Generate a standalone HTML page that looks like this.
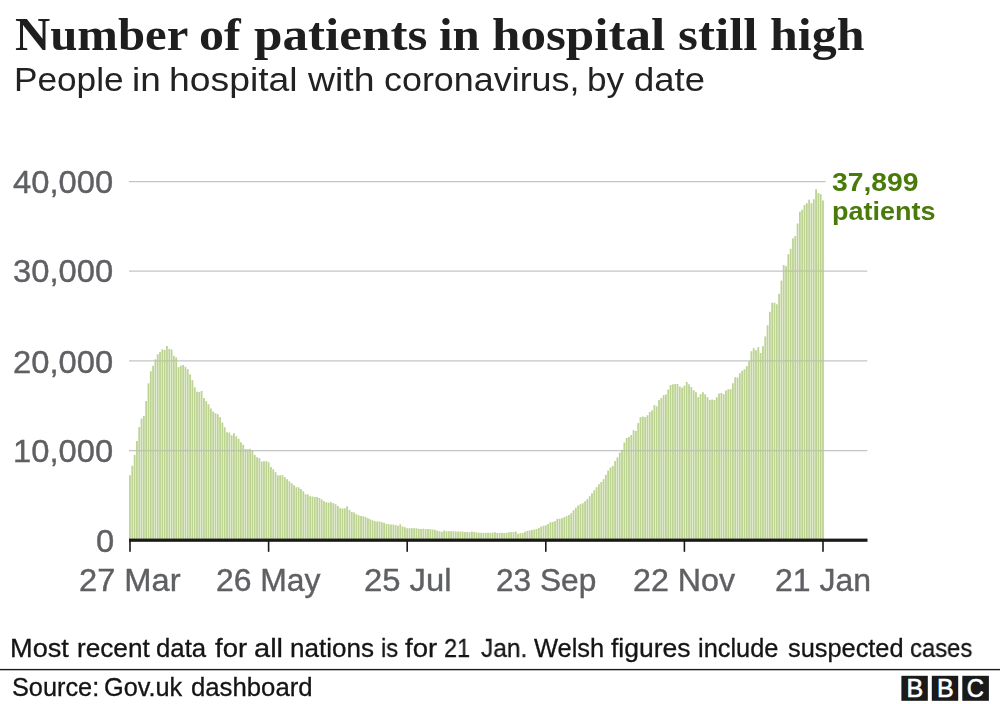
<!DOCTYPE html>
<html><head><meta charset="utf-8"><title>Number of patients in hospital still high</title>
<style>
html,body{margin:0;padding:0;background:#fff;}
body{width:1000px;height:704px;position:relative;overflow:hidden;font-family:"Liberation Sans",sans-serif;}
.t{position:absolute;white-space:nowrap;line-height:1;transform-origin:0 0;will-change:transform;}
svg{position:absolute;left:0;top:0;}
</style></head><body>
<svg width="1000" height="704" viewBox="0 0 1000 704">
<line x1="129" x2="825.5" y1="181.6" y2="181.6" stroke="#c4c4c4" stroke-width="1.25"/>
<line x1="129" x2="867.3" y1="271.2" y2="271.2" stroke="#c4c4c4" stroke-width="1.25"/>
<line x1="129" x2="867.3" y1="360.9" y2="360.9" stroke="#c4c4c4" stroke-width="1.25"/>
<line x1="129" x2="867.3" y1="450.5" y2="450.5" stroke="#c4c4c4" stroke-width="1.25"/>

<g fill="#a9c672" fill-opacity="0.78" shape-rendering="auto">
<rect x="129.10" y="475.2" width="1.8" height="63.8"/>
<rect x="131.41" y="465.8" width="1.8" height="73.2"/>
<rect x="133.72" y="454.9" width="1.8" height="84.1"/>
<rect x="136.03" y="441.0" width="1.8" height="98.0"/>
<rect x="138.34" y="427.1" width="1.8" height="111.9"/>
<rect x="140.65" y="418.5" width="1.8" height="120.5"/>
<rect x="142.96" y="415.9" width="1.8" height="123.1"/>
<rect x="145.27" y="401.0" width="1.8" height="138.0"/>
<rect x="147.58" y="383.3" width="1.8" height="155.7"/>
<rect x="149.89" y="371.2" width="1.8" height="167.8"/>
<rect x="152.20" y="365.8" width="1.8" height="173.2"/>
<rect x="154.51" y="359.3" width="1.8" height="179.7"/>
<rect x="156.82" y="354.3" width="1.8" height="184.7"/>
<rect x="159.13" y="351.9" width="1.8" height="187.1"/>
<rect x="161.44" y="349.3" width="1.8" height="189.7"/>
<rect x="163.75" y="349.9" width="1.8" height="189.1"/>
<rect x="166.06" y="346.0" width="1.8" height="193.0"/>
<rect x="168.37" y="348.9" width="1.8" height="190.1"/>
<rect x="170.68" y="349.5" width="1.8" height="189.5"/>
<rect x="172.99" y="355.9" width="1.8" height="183.1"/>
<rect x="175.30" y="357.5" width="1.8" height="181.5"/>
<rect x="177.61" y="367.2" width="1.8" height="171.8"/>
<rect x="179.92" y="365.8" width="1.8" height="173.2"/>
<rect x="182.23" y="365.0" width="1.8" height="174.0"/>
<rect x="184.54" y="366.8" width="1.8" height="172.2"/>
<rect x="186.85" y="369.2" width="1.8" height="169.8"/>
<rect x="189.16" y="374.4" width="1.8" height="164.6"/>
<rect x="191.47" y="380.2" width="1.8" height="158.8"/>
<rect x="193.78" y="387.3" width="1.8" height="151.7"/>
<rect x="196.09" y="391.7" width="1.8" height="147.3"/>
<rect x="198.40" y="392.0" width="1.8" height="147.0"/>
<rect x="200.71" y="391.0" width="1.8" height="148.0"/>
<rect x="203.02" y="398.0" width="1.8" height="141.0"/>
<rect x="205.33" y="401.2" width="1.8" height="137.8"/>
<rect x="207.64" y="404.3" width="1.8" height="134.7"/>
<rect x="209.95" y="408.5" width="1.8" height="130.5"/>
<rect x="212.26" y="411.5" width="1.8" height="127.5"/>
<rect x="214.57" y="413.2" width="1.8" height="125.8"/>
<rect x="216.88" y="414.2" width="1.8" height="124.8"/>
<rect x="219.19" y="417.2" width="1.8" height="121.8"/>
<rect x="221.50" y="422.5" width="1.8" height="116.5"/>
<rect x="223.81" y="427.2" width="1.8" height="111.8"/>
<rect x="226.12" y="432.2" width="1.8" height="106.8"/>
<rect x="228.43" y="432.5" width="1.8" height="106.5"/>
<rect x="230.74" y="435.2" width="1.8" height="103.8"/>
<rect x="233.05" y="433.2" width="1.8" height="105.8"/>
<rect x="235.36" y="436.3" width="1.8" height="102.7"/>
<rect x="237.67" y="438.7" width="1.8" height="100.3"/>
<rect x="239.98" y="442.3" width="1.8" height="96.7"/>
<rect x="242.29" y="444.7" width="1.8" height="94.3"/>
<rect x="244.60" y="449.0" width="1.8" height="90.0"/>
<rect x="246.91" y="449.3" width="1.8" height="89.7"/>
<rect x="249.22" y="448.8" width="1.8" height="90.2"/>
<rect x="251.53" y="450.8" width="1.8" height="88.2"/>
<rect x="253.84" y="455.0" width="1.8" height="84.0"/>
<rect x="256.15" y="457.2" width="1.8" height="81.8"/>
<rect x="258.46" y="458.2" width="1.8" height="80.8"/>
<rect x="260.77" y="461.5" width="1.8" height="77.5"/>
<rect x="263.08" y="461.3" width="1.8" height="77.7"/>
<rect x="265.39" y="461.2" width="1.8" height="77.8"/>
<rect x="267.70" y="462.2" width="1.8" height="76.8"/>
<rect x="270.01" y="467.0" width="1.8" height="72.0"/>
<rect x="272.32" y="469.2" width="1.8" height="69.8"/>
<rect x="274.63" y="472.2" width="1.8" height="66.8"/>
<rect x="276.94" y="475.3" width="1.8" height="63.7"/>
<rect x="279.25" y="475.3" width="1.8" height="63.7"/>
<rect x="281.56" y="475.2" width="1.8" height="63.8"/>
<rect x="283.87" y="477.2" width="1.8" height="61.8"/>
<rect x="286.18" y="479.2" width="1.8" height="59.8"/>
<rect x="288.49" y="481.3" width="1.8" height="57.7"/>
<rect x="290.80" y="483.3" width="1.8" height="55.7"/>
<rect x="293.11" y="485.2" width="1.8" height="53.8"/>
<rect x="295.42" y="487.2" width="1.8" height="51.8"/>
<rect x="297.73" y="487.3" width="1.8" height="51.7"/>
<rect x="300.04" y="489.0" width="1.8" height="50.0"/>
<rect x="302.35" y="491.2" width="1.8" height="47.8"/>
<rect x="304.66" y="494.2" width="1.8" height="44.8"/>
<rect x="306.97" y="494.5" width="1.8" height="44.5"/>
<rect x="309.28" y="496.2" width="1.8" height="42.8"/>
<rect x="311.59" y="496.5" width="1.8" height="42.5"/>
<rect x="313.90" y="497.0" width="1.8" height="42.0"/>
<rect x="316.21" y="497.0" width="1.8" height="42.0"/>
<rect x="318.52" y="498.0" width="1.8" height="41.0"/>
<rect x="320.83" y="499.5" width="1.8" height="39.5"/>
<rect x="323.14" y="501.2" width="1.8" height="37.8"/>
<rect x="325.45" y="502.2" width="1.8" height="36.8"/>
<rect x="327.76" y="502.5" width="1.8" height="36.5"/>
<rect x="330.07" y="502.2" width="1.8" height="36.8"/>
<rect x="332.38" y="503.2" width="1.8" height="35.8"/>
<rect x="334.69" y="504.2" width="1.8" height="34.8"/>
<rect x="337.00" y="506.0" width="1.8" height="33.0"/>
<rect x="339.31" y="508.2" width="1.8" height="30.8"/>
<rect x="341.62" y="508.5" width="1.8" height="30.5"/>
<rect x="343.93" y="508.3" width="1.8" height="30.7"/>
<rect x="346.24" y="506.3" width="1.8" height="32.7"/>
<rect x="348.55" y="510.0" width="1.8" height="29.0"/>
<rect x="350.86" y="512.0" width="1.8" height="27.0"/>
<rect x="353.17" y="512.5" width="1.8" height="26.5"/>
<rect x="355.48" y="514.2" width="1.8" height="24.8"/>
<rect x="357.79" y="515.3" width="1.8" height="23.7"/>
<rect x="360.10" y="516.0" width="1.8" height="23.0"/>
<rect x="362.41" y="516.2" width="1.8" height="22.8"/>
<rect x="364.72" y="517.2" width="1.8" height="21.8"/>
<rect x="367.03" y="518.2" width="1.8" height="20.8"/>
<rect x="369.34" y="519.3" width="1.8" height="19.7"/>
<rect x="371.65" y="520.2" width="1.8" height="18.8"/>
<rect x="373.96" y="521.2" width="1.8" height="17.8"/>
<rect x="376.27" y="521.5" width="1.8" height="17.5"/>
<rect x="378.58" y="521.5" width="1.8" height="17.5"/>
<rect x="380.89" y="522.2" width="1.8" height="16.8"/>
<rect x="383.20" y="522.8" width="1.8" height="16.2"/>
<rect x="385.51" y="524.0" width="1.8" height="15.0"/>
<rect x="387.82" y="524.2" width="1.8" height="14.8"/>
<rect x="390.13" y="524.5" width="1.8" height="14.5"/>
<rect x="392.44" y="524.5" width="1.8" height="14.5"/>
<rect x="394.75" y="525.0" width="1.8" height="14.0"/>
<rect x="397.06" y="525.8" width="1.8" height="13.2"/>
<rect x="399.37" y="524.3" width="1.8" height="14.7"/>
<rect x="401.68" y="526.5" width="1.8" height="12.5"/>
<rect x="403.99" y="527.2" width="1.8" height="11.8"/>
<rect x="406.30" y="528.2" width="1.8" height="10.8"/>
<rect x="408.61" y="528.2" width="1.8" height="10.8"/>
<rect x="410.92" y="528.2" width="1.8" height="10.8"/>
<rect x="413.23" y="528.2" width="1.8" height="10.8"/>
<rect x="415.54" y="528.3" width="1.8" height="10.7"/>
<rect x="417.85" y="528.8" width="1.8" height="10.2"/>
<rect x="420.16" y="529.0" width="1.8" height="10.0"/>
<rect x="422.47" y="528.7" width="1.8" height="10.3"/>
<rect x="424.78" y="529.0" width="1.8" height="10.0"/>
<rect x="427.09" y="529.0" width="1.8" height="10.0"/>
<rect x="429.40" y="529.2" width="1.8" height="9.8"/>
<rect x="431.71" y="529.5" width="1.8" height="9.5"/>
<rect x="434.02" y="529.8" width="1.8" height="9.2"/>
<rect x="436.33" y="530.5" width="1.8" height="8.5"/>
<rect x="438.64" y="531.2" width="1.8" height="7.8"/>
<rect x="440.95" y="531.8" width="1.8" height="7.2"/>
<rect x="443.26" y="530.5" width="1.8" height="8.5"/>
<rect x="445.57" y="531.2" width="1.8" height="7.8"/>
<rect x="447.88" y="531.2" width="1.8" height="7.8"/>
<rect x="450.19" y="531.2" width="1.8" height="7.8"/>
<rect x="452.50" y="531.2" width="1.8" height="7.8"/>
<rect x="454.81" y="531.5" width="1.8" height="7.5"/>
<rect x="457.12" y="531.5" width="1.8" height="7.5"/>
<rect x="459.43" y="531.5" width="1.8" height="7.5"/>
<rect x="461.74" y="531.6" width="1.8" height="7.4"/>
<rect x="464.05" y="532.0" width="1.8" height="7.0"/>
<rect x="466.36" y="532.0" width="1.8" height="7.0"/>
<rect x="468.67" y="532.2" width="1.8" height="6.8"/>
<rect x="470.98" y="531.5" width="1.8" height="7.5"/>
<rect x="473.29" y="532.0" width="1.8" height="7.0"/>
<rect x="475.60" y="532.3" width="1.8" height="6.7"/>
<rect x="477.91" y="532.7" width="1.8" height="6.3"/>
<rect x="480.22" y="532.8" width="1.8" height="6.2"/>
<rect x="482.53" y="532.8" width="1.8" height="6.2"/>
<rect x="484.84" y="532.8" width="1.8" height="6.2"/>
<rect x="487.15" y="532.8" width="1.8" height="6.2"/>
<rect x="489.46" y="532.8" width="1.8" height="6.2"/>
<rect x="491.77" y="532.7" width="1.8" height="6.3"/>
<rect x="494.08" y="532.2" width="1.8" height="6.8"/>
<rect x="496.39" y="533.0" width="1.8" height="6.0"/>
<rect x="498.70" y="532.8" width="1.8" height="6.2"/>
<rect x="501.01" y="532.8" width="1.8" height="6.2"/>
<rect x="503.32" y="533.0" width="1.8" height="6.0"/>
<rect x="505.63" y="532.8" width="1.8" height="6.2"/>
<rect x="507.94" y="532.2" width="1.8" height="6.8"/>
<rect x="510.25" y="532.2" width="1.8" height="6.8"/>
<rect x="512.56" y="532.0" width="1.8" height="7.0"/>
<rect x="514.87" y="531.5" width="1.8" height="7.5"/>
<rect x="517.18" y="533.8" width="1.8" height="5.2"/>
<rect x="519.49" y="533.2" width="1.8" height="5.8"/>
<rect x="521.80" y="533.0" width="1.8" height="6.0"/>
<rect x="524.11" y="531.8" width="1.8" height="7.2"/>
<rect x="526.42" y="531.0" width="1.8" height="8.0"/>
<rect x="528.73" y="530.5" width="1.8" height="8.5"/>
<rect x="531.04" y="530.0" width="1.8" height="9.0"/>
<rect x="533.35" y="529.5" width="1.8" height="9.5"/>
<rect x="535.66" y="529.0" width="1.8" height="10.0"/>
<rect x="537.97" y="528.0" width="1.8" height="11.0"/>
<rect x="540.28" y="526.5" width="1.8" height="12.5"/>
<rect x="542.59" y="525.8" width="1.8" height="13.2"/>
<rect x="544.90" y="525.2" width="1.8" height="13.8"/>
<rect x="547.21" y="524.0" width="1.8" height="15.0"/>
<rect x="549.52" y="522.2" width="1.8" height="16.8"/>
<rect x="551.83" y="522.0" width="1.8" height="17.0"/>
<rect x="554.14" y="521.2" width="1.8" height="17.8"/>
<rect x="556.45" y="519.0" width="1.8" height="20.0"/>
<rect x="558.76" y="518.7" width="1.8" height="20.3"/>
<rect x="561.07" y="518.2" width="1.8" height="20.8"/>
<rect x="563.38" y="517.2" width="1.8" height="21.8"/>
<rect x="565.69" y="516.2" width="1.8" height="22.8"/>
<rect x="568.00" y="515.0" width="1.8" height="24.0"/>
<rect x="570.31" y="513.2" width="1.8" height="25.8"/>
<rect x="572.62" y="510.2" width="1.8" height="28.8"/>
<rect x="574.93" y="507.8" width="1.8" height="31.2"/>
<rect x="577.24" y="505.5" width="1.8" height="33.5"/>
<rect x="579.55" y="504.2" width="1.8" height="34.8"/>
<rect x="581.86" y="503.2" width="1.8" height="35.8"/>
<rect x="584.17" y="501.3" width="1.8" height="37.7"/>
<rect x="586.48" y="499.0" width="1.8" height="40.0"/>
<rect x="588.79" y="496.2" width="1.8" height="42.8"/>
<rect x="591.10" y="493.2" width="1.8" height="45.8"/>
<rect x="593.41" y="490.2" width="1.8" height="48.8"/>
<rect x="595.72" y="487.2" width="1.8" height="51.8"/>
<rect x="598.03" y="484.2" width="1.8" height="54.8"/>
<rect x="600.34" y="482.0" width="1.8" height="57.0"/>
<rect x="602.65" y="479.2" width="1.8" height="59.8"/>
<rect x="604.96" y="474.8" width="1.8" height="64.2"/>
<rect x="607.27" y="470.5" width="1.8" height="68.5"/>
<rect x="609.58" y="467.5" width="1.8" height="71.5"/>
<rect x="611.89" y="466.0" width="1.8" height="73.0"/>
<rect x="614.20" y="461.1" width="1.8" height="77.9"/>
<rect x="616.51" y="457.4" width="1.8" height="81.6"/>
<rect x="618.82" y="452.6" width="1.8" height="86.4"/>
<rect x="621.13" y="449.9" width="1.8" height="89.1"/>
<rect x="623.44" y="442.5" width="1.8" height="96.5"/>
<rect x="625.75" y="438.0" width="1.8" height="101.0"/>
<rect x="628.06" y="436.9" width="1.8" height="102.1"/>
<rect x="630.37" y="435.0" width="1.8" height="104.0"/>
<rect x="632.68" y="430.2" width="1.8" height="108.8"/>
<rect x="634.99" y="431.0" width="1.8" height="108.0"/>
<rect x="637.30" y="423.1" width="1.8" height="115.9"/>
<rect x="639.61" y="417.2" width="1.8" height="121.8"/>
<rect x="641.92" y="416.5" width="1.8" height="122.5"/>
<rect x="644.23" y="417.1" width="1.8" height="121.9"/>
<rect x="646.54" y="415.3" width="1.8" height="123.7"/>
<rect x="648.85" y="412.0" width="1.8" height="127.0"/>
<rect x="651.16" y="410.4" width="1.8" height="128.6"/>
<rect x="653.47" y="405.1" width="1.8" height="133.9"/>
<rect x="655.78" y="406.3" width="1.8" height="132.7"/>
<rect x="658.09" y="400.1" width="1.8" height="138.9"/>
<rect x="660.40" y="398.1" width="1.8" height="140.9"/>
<rect x="662.71" y="395.1" width="1.8" height="143.9"/>
<rect x="665.02" y="394.4" width="1.8" height="144.6"/>
<rect x="667.33" y="389.5" width="1.8" height="149.5"/>
<rect x="669.64" y="385.1" width="1.8" height="153.9"/>
<rect x="671.95" y="384.3" width="1.8" height="154.7"/>
<rect x="674.26" y="384.0" width="1.8" height="155.0"/>
<rect x="676.57" y="384.0" width="1.8" height="155.0"/>
<rect x="678.88" y="386.5" width="1.8" height="152.5"/>
<rect x="681.19" y="387.7" width="1.8" height="151.3"/>
<rect x="683.50" y="385.7" width="1.8" height="153.3"/>
<rect x="685.81" y="382.0" width="1.8" height="157.0"/>
<rect x="688.12" y="384.3" width="1.8" height="154.7"/>
<rect x="690.43" y="387.0" width="1.8" height="152.0"/>
<rect x="692.74" y="390.2" width="1.8" height="148.8"/>
<rect x="695.05" y="392.2" width="1.8" height="146.8"/>
<rect x="697.36" y="397.2" width="1.8" height="141.8"/>
<rect x="699.67" y="394.2" width="1.8" height="144.8"/>
<rect x="701.98" y="392.2" width="1.8" height="146.8"/>
<rect x="704.29" y="394.3" width="1.8" height="144.7"/>
<rect x="706.60" y="397.2" width="1.8" height="141.8"/>
<rect x="708.91" y="400.0" width="1.8" height="139.0"/>
<rect x="711.22" y="399.5" width="1.8" height="139.5"/>
<rect x="713.53" y="400.0" width="1.8" height="139.0"/>
<rect x="715.84" y="397.2" width="1.8" height="141.8"/>
<rect x="718.15" y="393.5" width="1.8" height="145.5"/>
<rect x="720.46" y="393.0" width="1.8" height="146.0"/>
<rect x="722.77" y="394.2" width="1.8" height="144.8"/>
<rect x="725.08" y="390.5" width="1.8" height="148.5"/>
<rect x="727.39" y="389.3" width="1.8" height="149.7"/>
<rect x="729.70" y="389.2" width="1.8" height="149.8"/>
<rect x="732.01" y="383.2" width="1.8" height="155.8"/>
<rect x="734.32" y="377.2" width="1.8" height="161.8"/>
<rect x="736.63" y="377.5" width="1.8" height="161.5"/>
<rect x="738.94" y="373.2" width="1.8" height="165.8"/>
<rect x="741.25" y="370.8" width="1.8" height="168.2"/>
<rect x="743.56" y="369.2" width="1.8" height="169.8"/>
<rect x="745.87" y="366.2" width="1.8" height="172.8"/>
<rect x="748.18" y="361.5" width="1.8" height="177.5"/>
<rect x="750.49" y="351.2" width="1.8" height="187.8"/>
<rect x="752.80" y="348.2" width="1.8" height="190.8"/>
<rect x="755.11" y="350.2" width="1.8" height="188.8"/>
<rect x="757.42" y="347.2" width="1.8" height="191.8"/>
<rect x="759.73" y="353.0" width="1.8" height="186.0"/>
<rect x="762.04" y="346.2" width="1.8" height="192.8"/>
<rect x="764.35" y="336.4" width="1.8" height="202.6"/>
<rect x="766.66" y="325.2" width="1.8" height="213.8"/>
<rect x="768.97" y="311.8" width="1.8" height="227.2"/>
<rect x="771.28" y="302.7" width="1.8" height="236.3"/>
<rect x="773.59" y="302.7" width="1.8" height="236.3"/>
<rect x="775.90" y="304.2" width="1.8" height="234.8"/>
<rect x="778.21" y="293.8" width="1.8" height="245.2"/>
<rect x="780.52" y="280.6" width="1.8" height="258.4"/>
<rect x="782.83" y="265.0" width="1.8" height="274.0"/>
<rect x="785.14" y="266.1" width="1.8" height="272.9"/>
<rect x="787.45" y="254.2" width="1.8" height="284.8"/>
<rect x="789.76" y="248.8" width="1.8" height="290.2"/>
<rect x="792.07" y="238.3" width="1.8" height="300.7"/>
<rect x="794.38" y="236.0" width="1.8" height="303.0"/>
<rect x="796.69" y="223.5" width="1.8" height="315.5"/>
<rect x="799.00" y="211.7" width="1.8" height="327.3"/>
<rect x="801.31" y="209.7" width="1.8" height="329.3"/>
<rect x="803.62" y="205.0" width="1.8" height="334.0"/>
<rect x="805.93" y="203.2" width="1.8" height="335.8"/>
<rect x="808.24" y="199.6" width="1.8" height="339.4"/>
<rect x="810.55" y="203.2" width="1.8" height="335.8"/>
<rect x="812.86" y="199.2" width="1.8" height="339.8"/>
<rect x="815.17" y="189.2" width="1.8" height="349.8"/>
<rect x="817.48" y="193.1" width="1.8" height="345.9"/>
<rect x="819.79" y="194.2" width="1.8" height="344.8"/>
<rect x="822.10" y="200.5" width="1.8" height="338.5"/>
</g>
<g fill="#c8c8c3" fill-opacity="0.55">
<rect x="136.03" y="449.875" width="1.8" height="1.25"/>
<rect x="138.34" y="449.875" width="1.8" height="1.25"/>
<rect x="140.65" y="449.875" width="1.8" height="1.25"/>
<rect x="142.96" y="449.875" width="1.8" height="1.25"/>
<rect x="145.27" y="449.875" width="1.8" height="1.25"/>
<rect x="147.58" y="449.875" width="1.8" height="1.25"/>
<rect x="149.89" y="449.875" width="1.8" height="1.25"/>
<rect x="152.20" y="449.875" width="1.8" height="1.25"/>
<rect x="154.51" y="360.275" width="1.8" height="1.25"/>
<rect x="154.51" y="449.875" width="1.8" height="1.25"/>
<rect x="156.82" y="360.275" width="1.8" height="1.25"/>
<rect x="156.82" y="449.875" width="1.8" height="1.25"/>
<rect x="159.13" y="360.275" width="1.8" height="1.25"/>
<rect x="159.13" y="449.875" width="1.8" height="1.25"/>
<rect x="161.44" y="360.275" width="1.8" height="1.25"/>
<rect x="161.44" y="449.875" width="1.8" height="1.25"/>
<rect x="163.75" y="360.275" width="1.8" height="1.25"/>
<rect x="163.75" y="449.875" width="1.8" height="1.25"/>
<rect x="166.06" y="360.275" width="1.8" height="1.25"/>
<rect x="166.06" y="449.875" width="1.8" height="1.25"/>
<rect x="168.37" y="360.275" width="1.8" height="1.25"/>
<rect x="168.37" y="449.875" width="1.8" height="1.25"/>
<rect x="170.68" y="360.275" width="1.8" height="1.25"/>
<rect x="170.68" y="449.875" width="1.8" height="1.25"/>
<rect x="172.99" y="360.275" width="1.8" height="1.25"/>
<rect x="172.99" y="449.875" width="1.8" height="1.25"/>
<rect x="175.30" y="360.275" width="1.8" height="1.25"/>
<rect x="175.30" y="449.875" width="1.8" height="1.25"/>
<rect x="177.61" y="449.875" width="1.8" height="1.25"/>
<rect x="179.92" y="449.875" width="1.8" height="1.25"/>
<rect x="182.23" y="449.875" width="1.8" height="1.25"/>
<rect x="184.54" y="449.875" width="1.8" height="1.25"/>
<rect x="186.85" y="449.875" width="1.8" height="1.25"/>
<rect x="189.16" y="449.875" width="1.8" height="1.25"/>
<rect x="191.47" y="449.875" width="1.8" height="1.25"/>
<rect x="193.78" y="449.875" width="1.8" height="1.25"/>
<rect x="196.09" y="449.875" width="1.8" height="1.25"/>
<rect x="198.40" y="449.875" width="1.8" height="1.25"/>
<rect x="200.71" y="449.875" width="1.8" height="1.25"/>
<rect x="203.02" y="449.875" width="1.8" height="1.25"/>
<rect x="205.33" y="449.875" width="1.8" height="1.25"/>
<rect x="207.64" y="449.875" width="1.8" height="1.25"/>
<rect x="209.95" y="449.875" width="1.8" height="1.25"/>
<rect x="212.26" y="449.875" width="1.8" height="1.25"/>
<rect x="214.57" y="449.875" width="1.8" height="1.25"/>
<rect x="216.88" y="449.875" width="1.8" height="1.25"/>
<rect x="219.19" y="449.875" width="1.8" height="1.25"/>
<rect x="221.50" y="449.875" width="1.8" height="1.25"/>
<rect x="223.81" y="449.875" width="1.8" height="1.25"/>
<rect x="226.12" y="449.875" width="1.8" height="1.25"/>
<rect x="228.43" y="449.875" width="1.8" height="1.25"/>
<rect x="230.74" y="449.875" width="1.8" height="1.25"/>
<rect x="233.05" y="449.875" width="1.8" height="1.25"/>
<rect x="235.36" y="449.875" width="1.8" height="1.25"/>
<rect x="237.67" y="449.875" width="1.8" height="1.25"/>
<rect x="239.98" y="449.875" width="1.8" height="1.25"/>
<rect x="242.29" y="449.875" width="1.8" height="1.25"/>
<rect x="244.60" y="449.875" width="1.8" height="1.25"/>
<rect x="246.91" y="449.875" width="1.8" height="1.25"/>
<rect x="249.22" y="449.875" width="1.8" height="1.25"/>
<rect x="623.44" y="449.875" width="1.8" height="1.25"/>
<rect x="625.75" y="449.875" width="1.8" height="1.25"/>
<rect x="628.06" y="449.875" width="1.8" height="1.25"/>
<rect x="630.37" y="449.875" width="1.8" height="1.25"/>
<rect x="632.68" y="449.875" width="1.8" height="1.25"/>
<rect x="634.99" y="449.875" width="1.8" height="1.25"/>
<rect x="637.30" y="449.875" width="1.8" height="1.25"/>
<rect x="639.61" y="449.875" width="1.8" height="1.25"/>
<rect x="641.92" y="449.875" width="1.8" height="1.25"/>
<rect x="644.23" y="449.875" width="1.8" height="1.25"/>
<rect x="646.54" y="449.875" width="1.8" height="1.25"/>
<rect x="648.85" y="449.875" width="1.8" height="1.25"/>
<rect x="651.16" y="449.875" width="1.8" height="1.25"/>
<rect x="653.47" y="449.875" width="1.8" height="1.25"/>
<rect x="655.78" y="449.875" width="1.8" height="1.25"/>
<rect x="658.09" y="449.875" width="1.8" height="1.25"/>
<rect x="660.40" y="449.875" width="1.8" height="1.25"/>
<rect x="662.71" y="449.875" width="1.8" height="1.25"/>
<rect x="665.02" y="449.875" width="1.8" height="1.25"/>
<rect x="667.33" y="449.875" width="1.8" height="1.25"/>
<rect x="669.64" y="449.875" width="1.8" height="1.25"/>
<rect x="671.95" y="449.875" width="1.8" height="1.25"/>
<rect x="674.26" y="449.875" width="1.8" height="1.25"/>
<rect x="676.57" y="449.875" width="1.8" height="1.25"/>
<rect x="678.88" y="449.875" width="1.8" height="1.25"/>
<rect x="681.19" y="449.875" width="1.8" height="1.25"/>
<rect x="683.50" y="449.875" width="1.8" height="1.25"/>
<rect x="685.81" y="449.875" width="1.8" height="1.25"/>
<rect x="688.12" y="449.875" width="1.8" height="1.25"/>
<rect x="690.43" y="449.875" width="1.8" height="1.25"/>
<rect x="692.74" y="449.875" width="1.8" height="1.25"/>
<rect x="695.05" y="449.875" width="1.8" height="1.25"/>
<rect x="697.36" y="449.875" width="1.8" height="1.25"/>
<rect x="699.67" y="449.875" width="1.8" height="1.25"/>
<rect x="701.98" y="449.875" width="1.8" height="1.25"/>
<rect x="704.29" y="449.875" width="1.8" height="1.25"/>
<rect x="706.60" y="449.875" width="1.8" height="1.25"/>
<rect x="708.91" y="449.875" width="1.8" height="1.25"/>
<rect x="711.22" y="449.875" width="1.8" height="1.25"/>
<rect x="713.53" y="449.875" width="1.8" height="1.25"/>
<rect x="715.84" y="449.875" width="1.8" height="1.25"/>
<rect x="718.15" y="449.875" width="1.8" height="1.25"/>
<rect x="720.46" y="449.875" width="1.8" height="1.25"/>
<rect x="722.77" y="449.875" width="1.8" height="1.25"/>
<rect x="725.08" y="449.875" width="1.8" height="1.25"/>
<rect x="727.39" y="449.875" width="1.8" height="1.25"/>
<rect x="729.70" y="449.875" width="1.8" height="1.25"/>
<rect x="732.01" y="449.875" width="1.8" height="1.25"/>
<rect x="734.32" y="449.875" width="1.8" height="1.25"/>
<rect x="736.63" y="449.875" width="1.8" height="1.25"/>
<rect x="738.94" y="449.875" width="1.8" height="1.25"/>
<rect x="741.25" y="449.875" width="1.8" height="1.25"/>
<rect x="743.56" y="449.875" width="1.8" height="1.25"/>
<rect x="745.87" y="449.875" width="1.8" height="1.25"/>
<rect x="748.18" y="449.875" width="1.8" height="1.25"/>
<rect x="750.49" y="360.275" width="1.8" height="1.25"/>
<rect x="750.49" y="449.875" width="1.8" height="1.25"/>
<rect x="752.80" y="360.275" width="1.8" height="1.25"/>
<rect x="752.80" y="449.875" width="1.8" height="1.25"/>
<rect x="755.11" y="360.275" width="1.8" height="1.25"/>
<rect x="755.11" y="449.875" width="1.8" height="1.25"/>
<rect x="757.42" y="360.275" width="1.8" height="1.25"/>
<rect x="757.42" y="449.875" width="1.8" height="1.25"/>
<rect x="759.73" y="360.275" width="1.8" height="1.25"/>
<rect x="759.73" y="449.875" width="1.8" height="1.25"/>
<rect x="762.04" y="360.275" width="1.8" height="1.25"/>
<rect x="762.04" y="449.875" width="1.8" height="1.25"/>
<rect x="764.35" y="360.275" width="1.8" height="1.25"/>
<rect x="764.35" y="449.875" width="1.8" height="1.25"/>
<rect x="766.66" y="360.275" width="1.8" height="1.25"/>
<rect x="766.66" y="449.875" width="1.8" height="1.25"/>
<rect x="768.97" y="360.275" width="1.8" height="1.25"/>
<rect x="768.97" y="449.875" width="1.8" height="1.25"/>
<rect x="771.28" y="360.275" width="1.8" height="1.25"/>
<rect x="771.28" y="449.875" width="1.8" height="1.25"/>
<rect x="773.59" y="360.275" width="1.8" height="1.25"/>
<rect x="773.59" y="449.875" width="1.8" height="1.25"/>
<rect x="775.90" y="360.275" width="1.8" height="1.25"/>
<rect x="775.90" y="449.875" width="1.8" height="1.25"/>
<rect x="778.21" y="360.275" width="1.8" height="1.25"/>
<rect x="778.21" y="449.875" width="1.8" height="1.25"/>
<rect x="780.52" y="360.275" width="1.8" height="1.25"/>
<rect x="780.52" y="449.875" width="1.8" height="1.25"/>
<rect x="782.83" y="270.575" width="1.8" height="1.25"/>
<rect x="782.83" y="360.275" width="1.8" height="1.25"/>
<rect x="782.83" y="449.875" width="1.8" height="1.25"/>
<rect x="785.14" y="270.575" width="1.8" height="1.25"/>
<rect x="785.14" y="360.275" width="1.8" height="1.25"/>
<rect x="785.14" y="449.875" width="1.8" height="1.25"/>
<rect x="787.45" y="270.575" width="1.8" height="1.25"/>
<rect x="787.45" y="360.275" width="1.8" height="1.25"/>
<rect x="787.45" y="449.875" width="1.8" height="1.25"/>
<rect x="789.76" y="270.575" width="1.8" height="1.25"/>
<rect x="789.76" y="360.275" width="1.8" height="1.25"/>
<rect x="789.76" y="449.875" width="1.8" height="1.25"/>
<rect x="792.07" y="270.575" width="1.8" height="1.25"/>
<rect x="792.07" y="360.275" width="1.8" height="1.25"/>
<rect x="792.07" y="449.875" width="1.8" height="1.25"/>
<rect x="794.38" y="270.575" width="1.8" height="1.25"/>
<rect x="794.38" y="360.275" width="1.8" height="1.25"/>
<rect x="794.38" y="449.875" width="1.8" height="1.25"/>
<rect x="796.69" y="270.575" width="1.8" height="1.25"/>
<rect x="796.69" y="360.275" width="1.8" height="1.25"/>
<rect x="796.69" y="449.875" width="1.8" height="1.25"/>
<rect x="799.00" y="270.575" width="1.8" height="1.25"/>
<rect x="799.00" y="360.275" width="1.8" height="1.25"/>
<rect x="799.00" y="449.875" width="1.8" height="1.25"/>
<rect x="801.31" y="270.575" width="1.8" height="1.25"/>
<rect x="801.31" y="360.275" width="1.8" height="1.25"/>
<rect x="801.31" y="449.875" width="1.8" height="1.25"/>
<rect x="803.62" y="270.575" width="1.8" height="1.25"/>
<rect x="803.62" y="360.275" width="1.8" height="1.25"/>
<rect x="803.62" y="449.875" width="1.8" height="1.25"/>
<rect x="805.93" y="270.575" width="1.8" height="1.25"/>
<rect x="805.93" y="360.275" width="1.8" height="1.25"/>
<rect x="805.93" y="449.875" width="1.8" height="1.25"/>
<rect x="808.24" y="270.575" width="1.8" height="1.25"/>
<rect x="808.24" y="360.275" width="1.8" height="1.25"/>
<rect x="808.24" y="449.875" width="1.8" height="1.25"/>
<rect x="810.55" y="270.575" width="1.8" height="1.25"/>
<rect x="810.55" y="360.275" width="1.8" height="1.25"/>
<rect x="810.55" y="449.875" width="1.8" height="1.25"/>
<rect x="812.86" y="270.575" width="1.8" height="1.25"/>
<rect x="812.86" y="360.275" width="1.8" height="1.25"/>
<rect x="812.86" y="449.875" width="1.8" height="1.25"/>
<rect x="815.17" y="270.575" width="1.8" height="1.25"/>
<rect x="815.17" y="360.275" width="1.8" height="1.25"/>
<rect x="815.17" y="449.875" width="1.8" height="1.25"/>
<rect x="817.48" y="270.575" width="1.8" height="1.25"/>
<rect x="817.48" y="360.275" width="1.8" height="1.25"/>
<rect x="817.48" y="449.875" width="1.8" height="1.25"/>
<rect x="819.79" y="270.575" width="1.8" height="1.25"/>
<rect x="819.79" y="360.275" width="1.8" height="1.25"/>
<rect x="819.79" y="449.875" width="1.8" height="1.25"/>
<rect x="822.10" y="270.575" width="1.8" height="1.25"/>
<rect x="822.10" y="360.275" width="1.8" height="1.25"/>
<rect x="822.10" y="449.875" width="1.8" height="1.25"/>
</g>
<rect x="129" y="538.6" width="738.5" height="3.2" fill="#1a1a1a"/>
<rect x="129.2" y="540" width="1.6" height="11.8" fill="#1a1a1a"/>
<rect x="267.8" y="540" width="1.6" height="11.8" fill="#1a1a1a"/>
<rect x="406.4" y="540" width="1.6" height="11.8" fill="#1a1a1a"/>
<rect x="545.0" y="540" width="1.6" height="11.8" fill="#1a1a1a"/>
<rect x="683.6" y="540" width="1.6" height="11.8" fill="#1a1a1a"/>
<rect x="822.2" y="540" width="1.6" height="11.8" fill="#1a1a1a"/>

<rect x="0" y="668.9" width="1000" height="1.4" fill="#1a1a1a"/>
<g fill="#1a1a1a">
<rect x="901.4" y="675.8" width="26.4" height="25"/>
<rect x="931.8" y="675.8" width="26.4" height="25"/>
<rect x="962.3" y="675.8" width="26.6" height="25"/>
</g>
<g fill="#fff" stroke="#fff" stroke-width="0.6" font-family="Liberation Sans" font-size="25" text-anchor="middle">
<text transform="translate(914.9 697.2) scale(1.0 1)">B</text>
<text transform="translate(945.3 697.2) scale(1.0 1)">B</text>
<text transform="translate(975.4 697.4) scale(0.95 1)">C</text>
</g>
</svg>
<div class="t" style="left:13.40px;top:166.60px;font-size:31px;transform:scaleX(1.0560);color:#5f6063;-webkit-text-stroke:0.4px #5f6063;">40,000</div>
<div class="t" style="left:13.40px;top:256.40px;font-size:31px;transform:scaleX(1.0560);color:#5f6063;-webkit-text-stroke:0.4px #5f6063;">30,000</div>
<div class="t" style="left:13.40px;top:346.60px;font-size:31px;transform:scaleX(1.0560);color:#5f6063;-webkit-text-stroke:0.4px #5f6063;">20,000</div>
<div class="t" style="left:13.40px;top:436.40px;font-size:31px;transform:scaleX(1.0560);color:#5f6063;-webkit-text-stroke:0.4px #5f6063;">10,000</div>
<div class="t" style="left:95.80px;top:526.20px;font-size:31px;transform:scaleX(1.0560);color:#5f6063;-webkit-text-stroke:0.4px #5f6063;">0</div>
<div class="t" style="left:79.00px;top:564.60px;font-size:31px;transform:scaleX(1.0526);color:#5f6063;-webkit-text-stroke:0.4px #5f6063;">27 Mar</div>
<div class="t" style="left:215.80px;top:564.60px;font-size:31px;transform:scaleX(1.0280);color:#5f6063;-webkit-text-stroke:0.4px #5f6063;">26 May</div>
<div class="t" style="left:363.80px;top:564.60px;font-size:31px;transform:scaleX(1.0576);color:#5f6063;-webkit-text-stroke:0.4px #5f6063;">25 Jul</div>
<div class="t" style="left:495.80px;top:564.60px;font-size:31px;transform:scaleX(1.0208);color:#5f6063;-webkit-text-stroke:0.4px #5f6063;">23 Sep</div>
<div class="t" style="left:633.00px;top:564.60px;font-size:31px;transform:scaleX(1.0392);color:#5f6063;-webkit-text-stroke:0.4px #5f6063;">22 Nov</div>
<div class="t" style="left:775.00px;top:564.60px;font-size:31px;transform:scaleX(1.0312);color:#5f6063;-webkit-text-stroke:0.4px #5f6063;">21 Jan</div>
<div class="t" style="left:832.00px;top:169.40px;font-size:26px;transform:scaleX(1.0887);font-weight:bold;color:#4a7a0a;">37,899</div>
<div class="t" style="left:832.00px;top:198.40px;font-size:26px;transform:scaleX(1.0388);font-weight:bold;color:#4a7a0a;">patients</div>
<div class="t" style="left:15.00px;top:11.00px;font-size:47px;transform:scaleX(1.0377);font-family:'Liberation Serif',serif;font-weight:bold;color:#1e1e1e;">Number</div>
<div class="t" style="left:199.34px;top:11.00px;font-size:47px;transform:scaleX(1.0633);font-family:'Liberation Serif',serif;font-weight:bold;color:#1e1e1e;">of</div>
<div class="t" style="left:253.50px;top:11.00px;font-size:47px;transform:scaleX(1.0887);font-family:'Liberation Serif',serif;font-weight:bold;color:#1e1e1e;">patients</div>
<div class="t" style="left:439.36px;top:11.00px;font-size:47px;transform:scaleX(1.0405);font-family:'Liberation Serif',serif;font-weight:bold;color:#1e1e1e;">in</div>
<div class="t" style="left:491.71px;top:11.00px;font-size:47px;transform:scaleX(1.0867);font-family:'Liberation Serif',serif;font-weight:bold;color:#1e1e1e;">hospital</div>
<div class="t" style="left:677.71px;top:11.00px;font-size:47px;transform:scaleX(1.0880);font-family:'Liberation Serif',serif;font-weight:bold;color:#1e1e1e;">still</div>
<div class="t" style="left:769.74px;top:11.00px;font-size:47px;transform:scaleX(1.0627);font-family:'Liberation Serif',serif;font-weight:bold;color:#1e1e1e;">high</div>
<div class="t" style="left:13.87px;top:63.30px;font-size:33px;transform:scaleX(1.0664);color:#222;">People</div>
<div class="t" style="left:131.76px;top:63.30px;font-size:33px;transform:scaleX(1.1195);color:#222;">in</div>
<div class="t" style="left:169.24px;top:63.30px;font-size:33px;transform:scaleX(1.1303);color:#222;">hospital</div>
<div class="t" style="left:308.03px;top:63.30px;font-size:33px;transform:scaleX(1.1349);color:#222;">with</div>
<div class="t" style="left:383.81px;top:63.30px;font-size:33px;transform:scaleX(1.0874);color:#222;">coronavirus,</div>
<div class="t" style="left:586.67px;top:63.30px;font-size:33px;transform:scaleX(1.0644);color:#222;">by</div>
<div class="t" style="left:634.10px;top:63.30px;font-size:33px;transform:scaleX(1.1038);color:#222;">date</div>
<div class="t" style="left:10.41px;top:635.70px;font-size:25.3px;transform:scaleX(1.0737);color:#141414;-webkit-text-stroke:0.3px #141414;">Most</div>
<div class="t" style="left:76.72px;top:635.70px;font-size:25.3px;transform:scaleX(1.0348);color:#141414;-webkit-text-stroke:0.3px #141414;">recent</div>
<div class="t" style="left:156.13px;top:635.70px;font-size:25.3px;transform:scaleX(1.0189);color:#141414;-webkit-text-stroke:0.3px #141414;">data</div>
<div class="t" style="left:214.56px;top:635.70px;font-size:25.3px;transform:scaleX(1.0885);color:#141414;-webkit-text-stroke:0.3px #141414;">for</div>
<div class="t" style="left:253.62px;top:635.70px;font-size:25.3px;transform:scaleX(1.1484);color:#141414;-webkit-text-stroke:0.3px #141414;">all</div>
<div class="t" style="left:289.52px;top:635.70px;font-size:25.3px;transform:scaleX(1.0296);color:#141414;-webkit-text-stroke:0.3px #141414;">nations</div>
<div class="t" style="left:381.20px;top:635.70px;font-size:25.3px;transform:scaleX(0.9456);color:#141414;-webkit-text-stroke:0.3px #141414;">is</div>
<div class="t" style="left:405.16px;top:635.70px;font-size:25.3px;transform:scaleX(1.0885);color:#141414;-webkit-text-stroke:0.3px #141414;">for</div>
<div class="t" style="left:444.21px;top:635.70px;font-size:25.3px;transform:scaleX(0.9329);color:#141414;-webkit-text-stroke:0.3px #141414;">21</div>
<div class="t" style="left:480.55px;top:635.70px;font-size:25.3px;transform:scaleX(0.9677);color:#141414;-webkit-text-stroke:0.3px #141414;">Jan.</div>
<div class="t" style="left:533.75px;top:635.70px;font-size:25.3px;transform:scaleX(1.0050);color:#141414;-webkit-text-stroke:0.3px #141414;">Welsh</div>
<div class="t" style="left:610.56px;top:635.70px;font-size:25.3px;transform:scaleX(1.0479);color:#141414;-webkit-text-stroke:0.3px #141414;">figures</div>
<div class="t" style="left:698.15px;top:635.70px;font-size:25.3px;transform:scaleX(1.0026);color:#141414;-webkit-text-stroke:0.3px #141414;">include</div>
<div class="t" style="left:787.75px;top:635.70px;font-size:25.3px;transform:scaleX(1.0022);color:#141414;-webkit-text-stroke:0.3px #141414;">suspected</div>
<div class="t" style="left:910.20px;top:635.70px;font-size:25.3px;transform:scaleX(0.9423);color:#141414;-webkit-text-stroke:0.3px #141414;">cases</div>
<div class="t" style="left:11.65px;top:675.00px;font-size:25.3px;transform:scaleX(0.9970);color:#141414;-webkit-text-stroke:0.3px #141414;">Source:</div>
<div class="t" style="left:104.15px;top:675.00px;font-size:25.3px;transform:scaleX(0.9947);color:#141414;-webkit-text-stroke:0.3px #141414;">Gov.uk</div>
<div class="t" style="left:190.54px;top:675.00px;font-size:25.3px;transform:scaleX(1.0171);color:#141414;-webkit-text-stroke:0.3px #141414;">dashboard</div>

</body></html>
